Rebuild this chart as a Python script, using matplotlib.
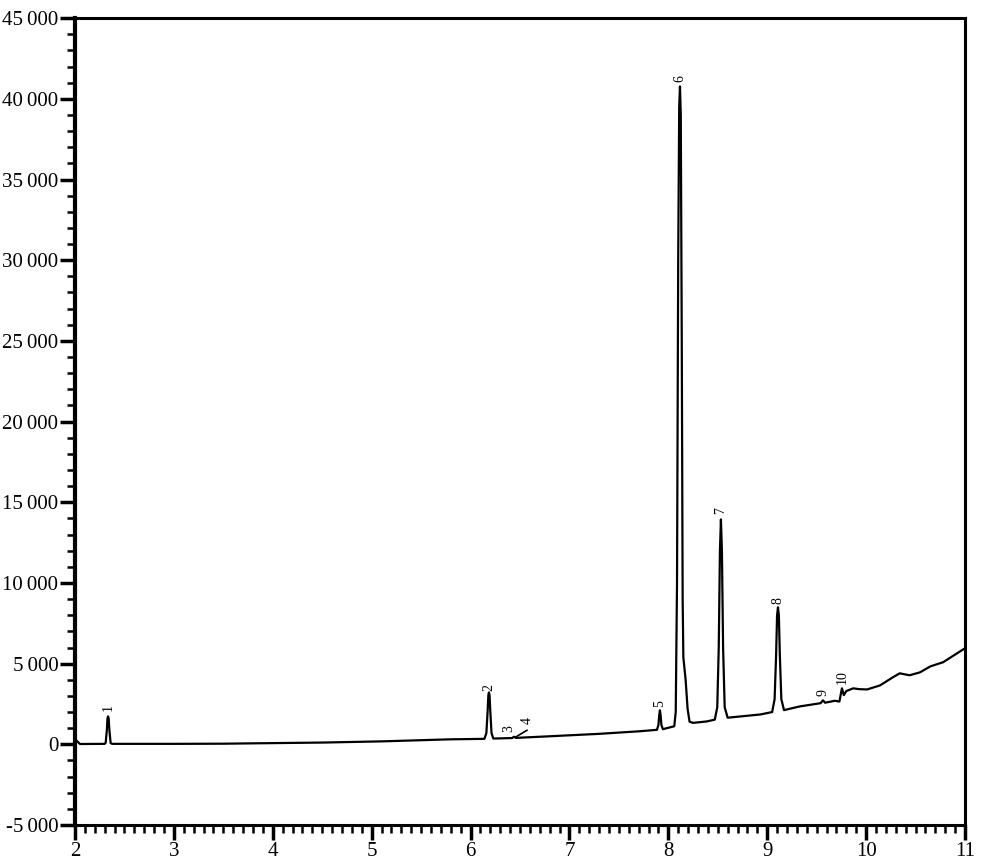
import matplotlib
matplotlib.use("Agg")
import matplotlib.pyplot as plt
from matplotlib.ticker import MultipleLocator, FuncFormatter

plt.rcParams['font.family'] = ['Liberation Serif', 'DejaVu Serif']

# trace (time in min, signal)
temps = [2.00, 2.02, 2.05, 2.30, 2.31, 2.322, 2.328, 2.334, 2.340, 2.347, 2.36, 2.375,
         3.0, 3.5, 3.77, 4.5, 5.11, 5.79,
         6.14, 6.16, 6.172, 6.18, 6.186, 6.192, 6.20, 6.212, 6.23,
         6.30, 6.42, 6.44, 6.46, 6.8, 7.3, 7.71,
         7.885, 7.90, 7.908, 7.915, 7.922, 7.93, 7.945,
         8.06, 8.075, 8.088, 8.10, 8.11, 8.118, 8.126, 8.136, 8.145, 8.152,
         8.175, 8.195, 8.215, 8.25, 8.39,
         8.47, 8.495, 8.51, 8.522, 8.532, 8.542, 8.554, 8.57, 8.60, 8.93,
         9.05, 9.075, 9.09, 9.10, 9.109, 9.118, 9.128, 9.143, 9.17,
         9.33, 9.54, 9.564, 9.585, 9.685, 9.73, 9.756, 9.775, 9.80, 9.87,
         9.93, 10.01, 10.14, 10.27, 10.34, 10.44, 10.545, 10.65, 10.78, 10.92, 11.0]
signal = [350, 200, 20, 30, 100, 900, 1600, 1735, 1600, 900, 80, 30,
          30, 40, 60, 110, 185, 310,
          340, 700, 2000, 3050, 3220, 3050, 2000, 700, 360,
          370, 390, 470, 400, 500, 650, 810,
          900, 1200, 1800, 2110, 1800, 1200, 940,
          1120, 2000, 10000, 30000, 39500, 40770, 39000, 25000, 9000, 5400,
          4000, 2200, 1400, 1330, 1420,
          1530, 2300, 6000, 12000, 13940, 12000, 6000, 2300, 1650, 1850,
          2000, 2800, 5500, 8000, 8490, 8000, 5500, 2800, 2120,
          2350, 2550, 2730, 2580, 2700, 2650, 3470, 3050, 3300, 3470,
          3420, 3400, 3650, 4150, 4400, 4280, 4460, 4830, 5090, 5640, 5950]

# peak numbers and where their labels sit
pic_num = ["1", "2", "3", "4", "5", "6", "7", "8", "9", "10"]
pic_tr = [2.334, 6.186, 6.39, 6.57, 7.915, 8.118, 8.532, 9.109, 9.56, 9.756]
pic_lab_y = [2300, 3530, 990, 1490, 2540, 41260, 14500, 8920, 3220, 4150]

fig = plt.figure(figsize=(9.9, 8.63), dpi=100)
ax = fig.add_axes([0.0758, 0.044, 0.8989, 0.935])

ax.plot(temps, signal, color="black", linewidth=1.6)
# small marker line of peak 4
ax.plot([6.45, 6.57], [430, 870], color="black", linewidth=1.2)

for num, t, yl in zip(pic_num, pic_tr, pic_lab_y):
    ax.text(t, yl, num, rotation=90, ha="center", va="center", fontsize=10)

ax.set_xlim(2, 11)
ax.set_ylim(-5000, 45000)
ax.xaxis.set_major_locator(MultipleLocator(1))
ax.xaxis.set_minor_locator(MultipleLocator(0.1))
ax.yaxis.set_major_locator(MultipleLocator(5000))
ax.yaxis.set_minor_locator(MultipleLocator(1000))


def fmt_y(v, pos):
    v = int(round(v))
    if v == 0:
        return "0"
    s = f"{abs(v):,}".replace(",", "\u2009")
    return ("-" if v < 0 else "") + s


ax.yaxis.set_major_formatter(FuncFormatter(fmt_y))
ax.tick_params(which="major", direction="out", length=11, width=2.5, labelsize=15, pad=1)
ax.tick_params(which="minor", direction="out", length=6, width=1.8)

for sp in ax.spines.values():
    sp.set_linewidth(2.2)
ax.spines["left"].set_linewidth(3)

fig.savefig("out.png", dpi=100)
